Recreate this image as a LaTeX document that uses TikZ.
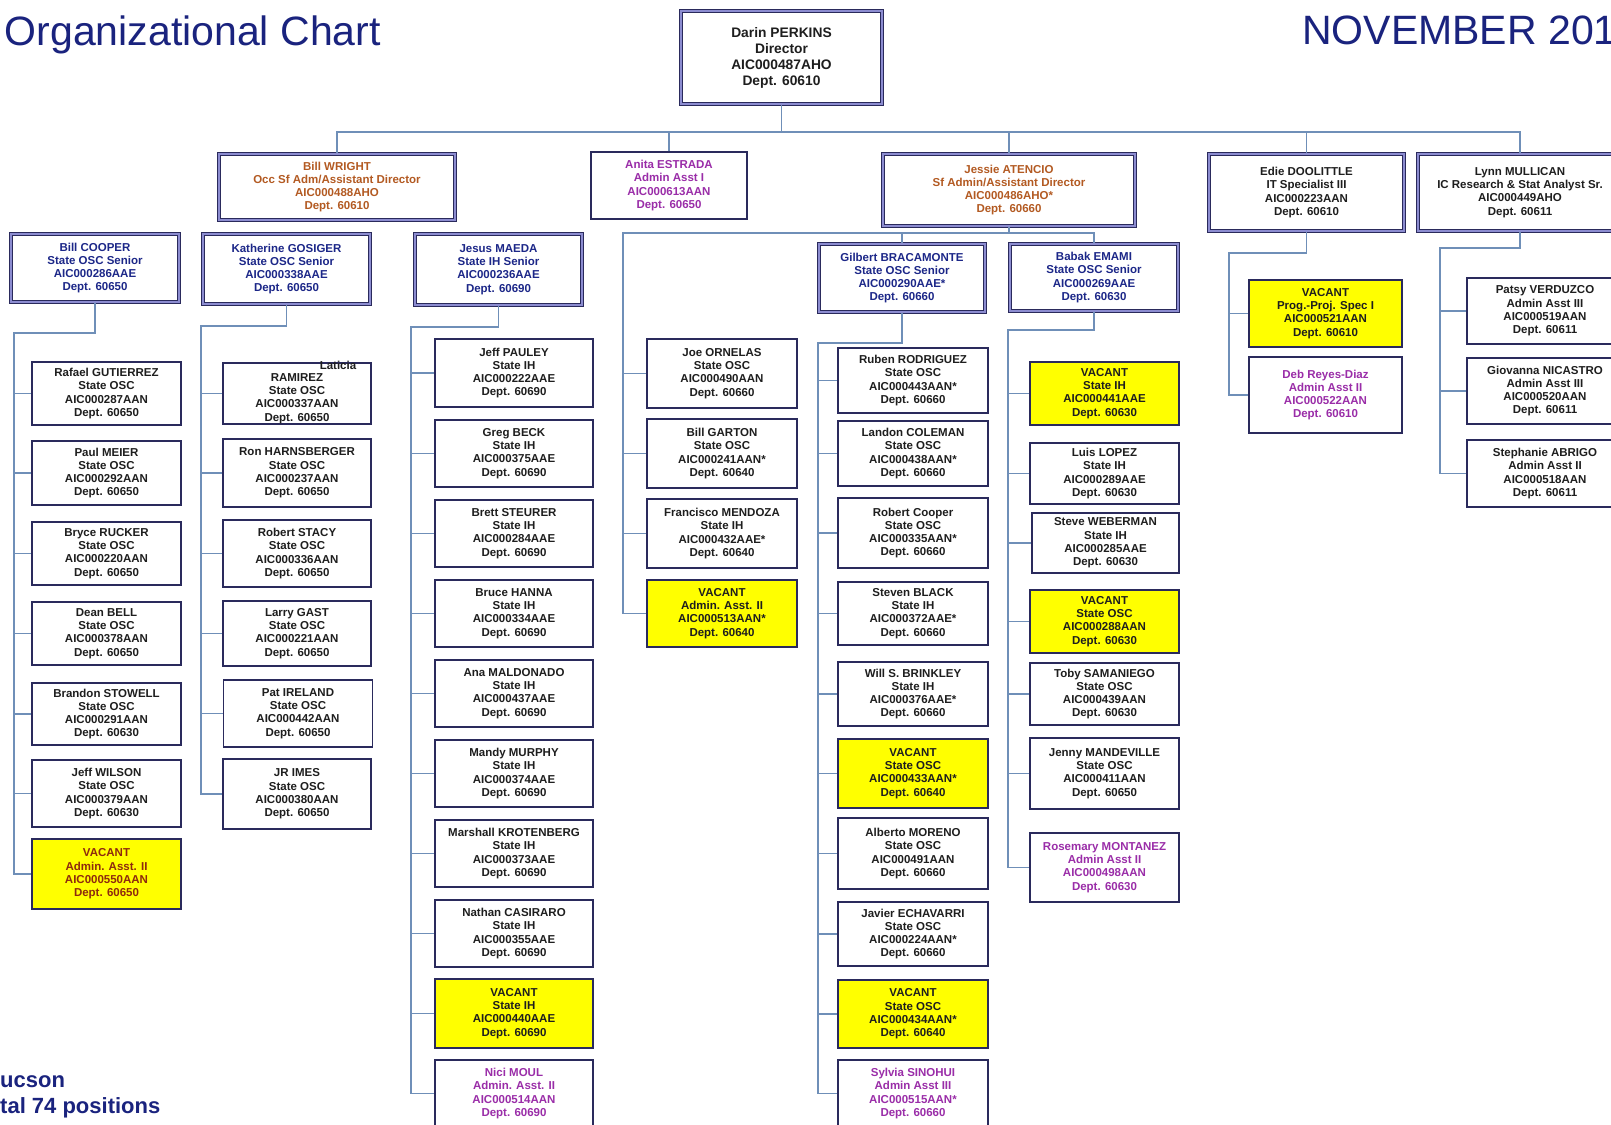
\documentclass[tikz,border=0pt]{standalone}
\usepackage{fontspec}
\setmainfont{Liberation Sans}
\definecolor{linec}{HTML}{6F8FB8}
\definecolor{boxc}{HTML}{2A2A5C}
\definecolor{dblc}{HTML}{8C8CD0}
\definecolor{vyel}{HTML}{FFFF00}
\definecolor{purp}{HTML}{9A2DA8}
\definecolor{orng}{HTML}{B35A22}
\definecolor{navyt}{HTML}{1C2788}
\definecolor{txtb}{HTML}{1E1E1E}
\definecolor{titlec}{HTML}{1A237E}
\definecolor{vacred}{HTML}{8E2A0E}
\newcommand\kidfont{\fontsize{11.5}{13.3}\selectfont\bfseries}
\newcommand\bigfont{\fontsize{13.8}{16}\selectfont\bfseries}
\newcommand\kb[6]{\node[#1,minimum width=#3pt,minimum height=#4pt] (#2) at (#5) {#6};}
\tikzset{
  conn/.style={draw=linec, line width=1.5pt},
  kid/.style={draw=boxc, line width=1.4pt, fill=white, inner sep=0pt, align=center, font=\kidfont, text=txtb},
  vac/.style={kid, fill=vyel},
  pkid/.style={kid, text=purp},
  dbl/.style={draw=boxc, line width=1.2pt, double=dblc, double distance=2pt, fill=white, inner sep=0pt, align=center, font=\kidfont, text=txtb},
  kidtxt/.style={inner sep=0pt, align=center, font=\kidfont, text=txtb},
  ttl/.style={inner sep=0pt, font=\fontsize{41}{48}\selectfont, text=titlec},
  foot/.style={inner sep=0pt, font=\fontsize{22}{26}\selectfont\bfseries, text=titlec}
}
\begin{document}
\begin{tikzpicture}[x=1pt,y=-1pt]
\useasboundingbox (0,0) rectangle (1611,1124);
\fill[white] (0,0) rectangle (1611,1124);
\clip (0,0) rectangle (1611,1124);

% titles
\node[ttl, anchor=base east] (title) at (381,46) {Organizational Chart};
\node[ttl, anchor=base west] (date) at (1302,45) {NOVEMBER 201};
\node[foot, anchor=base west] (loc) at (0,1087) {ucson};
\node[foot, anchor=base west] (tot) at (0,1113) {tal 74 positions};

% top
\node[dbl, font=\bigfont, minimum width=201pt, minimum height=93pt] (darin) at (781.5,57.5) {Darin PERKINS\\Director\\AIC000487AHO\\Dept. 60610};

% level 2
\node[dbl, text=orng, minimum width=236pt, minimum height=66pt] (wright) at (337,187) {Bill WRIGHT\\Occ Sf Adm/Assistant Director\\AIC000488AHO\\Dept. 60610};
\node[kid, text=purp, minimum width=156pt, minimum height=67pt] (estrada) at (669,185.5) {Anita ESTRADA\\Admin Asst I\\AIC000613AAN\\Dept. 60650};
\node[dbl, text=orng, minimum width=252pt, minimum height=72pt] (atencio) at (1009,190) {Jessie ATENCIO\\Sf Admin/Assistant Director\\AIC000486AHO*\\Dept. 60660};
\node[dbl, minimum width=195pt, minimum height=77pt] (doolittle) at (1306.5,192.5) {Edie DOOLITTLE\\IT Specialist III\\AIC000223AAN\\Dept. 60610};
\node[dbl, minimum width=204pt, minimum height=77pt] (mullican) at (1520,192.5) {Lynn MULLICAN\\IC Research \& Stat Analyst Sr.\\AIC000449AHO\\Dept. 60611};

% level 3
\node[dbl, text=navyt, minimum width=168pt, minimum height=68pt] (cooper) at (95,268) {Bill COOPER\\State OSC Senior\\AIC000286AAE\\Dept. 60650};
\node[dbl, text=navyt, minimum width=167pt, minimum height=70pt] (gosiger) at (286.5,269) {Katherine GOSIGER\\State OSC Senior\\AIC000338AAE\\Dept. 60650};
\node[dbl, text=navyt, minimum width=167pt, minimum height=71pt] (maeda) at (498.5,269.5) {Jesus MAEDA\\State IH Senior\\AIC000236AAE\\Dept. 60690};
\node[dbl, text=navyt, minimum width=166pt, minimum height=68pt] (bracamonte) at (902,278) {Gilbert BRACAMONTE\\State OSC Senior\\AIC000290AAE*\\Dept. 60660};
\node[dbl, text=navyt, minimum width=168pt, minimum height=67pt] (emami) at (1094,277.5) {Babak EMAMI\\State OSC Senior\\AIC000269AAE\\Dept. 60630};

% Cooper team
\kb{kid}{gutierrez}{149}{63}{106.5,393.5}{Rafael GUTIERREZ\\State OSC\\AIC000287AAN\\Dept. 60650}
\kb{kid}{meier}{149}{64}{106.5,473}{Paul MEIER\\State OSC\\AIC000292AAN\\Dept. 60650}
\kb{kid}{rucker}{149}{63}{106.5,553.5}{Bryce RUCKER\\State OSC\\AIC000220AAN\\Dept. 60650}
\kb{kid}{bell}{149}{63}{106.5,633.5}{Dean BELL\\State OSC\\AIC000378AAN\\Dept. 60650}
\kb{kid}{stowell}{149}{62}{106.5,714}{Brandon STOWELL\\State OSC\\AIC000291AAN\\Dept. 60630}
\kb{kid}{wilson}{149}{67}{106.5,793.5}{Jeff WILSON\\State OSC\\AIC000379AAN\\Dept. 60630}
\kb{vac,text=vacred}{cvac}{149}{70}{106.5,874}{VACANT\\Admin. Asst. II\\AIC000550AAN\\Dept. 60650}

% Gosiger team
\kb{kid}{ramirez}{148}{61}{297,393.5}{}
\node[kidtxt] (ramirezT) at (297,398.5) {RAMIREZ\\State OSC\\AIC000337AAN\\Dept. 60650};
\node[kidtxt] (laticia) at (338,365) {Laticia};
\kb{kid}{harnsberger}{148}{68}{297,473}{Ron HARNSBERGER\\State OSC\\AIC000237AAN\\Dept. 60650}
\kb{kid}{stacy}{148}{67}{297,553.5}{Robert STACY\\State OSC\\AIC000336AAN\\Dept. 60650}
\kb{kid}{gast}{148}{65}{297,633.5}{Larry GAST\\State OSC\\AIC000221AAN\\Dept. 60650}
\kb{kid}{ireland}{149}{67}{298,713.5}{Pat IRELAND\\State OSC\\AIC000442AAN\\Dept. 60650}
\kb{kid}{imes}{148}{70}{297,794}{JR IMES\\State OSC\\AIC000380AAN\\Dept. 60650}

% Maeda team
\kb{kid}{pauley}{158}{68}{514,373}{Jeff PAULEY\\State IH\\AIC000222AAE\\Dept. 60690}
\kb{kid}{beck}{158}{67}{514,453.5}{Greg BECK\\State IH\\AIC000375AAE\\Dept. 60690}
\kb{kid}{steurer}{158}{67}{514,533.5}{Brett STEURER\\State IH\\AIC000284AAE\\Dept. 60690}
\kb{kid}{hanna}{158}{67}{514,613.5}{Bruce HANNA\\State IH\\AIC000334AAE\\Dept. 60690}
\kb{kid}{maldonado}{158}{67}{514,693.5}{Ana MALDONADO\\State IH\\AIC000437AAE\\Dept. 60690}
\kb{kid}{murphy}{158}{67}{514,773.5}{Mandy MURPHY\\State IH\\AIC000374AAE\\Dept. 60690}
\kb{kid}{krotenberg}{158}{67}{514,853.5}{Marshall KROTENBERG\\State IH\\AIC000373AAE\\Dept. 60690}
\kb{kid}{casiraro}{158}{67}{514,933.5}{Nathan CASIRARO\\State IH\\AIC000355AAE\\Dept. 60690}
\kb{vac}{mvac}{158}{69}{514,1013.5}{VACANT\\State IH\\AIC000440AAE\\Dept. 60690}
\kb{pkid}{moul}{158}{67}{514,1093.5}{Nici MOUL\\Admin. Asst. II\\AIC000514AAN\\Dept. 60690}

% Ornelas column
\kb{kid}{ornelas}{150}{69}{722,373.5}{Joe ORNELAS\\State OSC\\AIC000490AAN\\Dept. 60660}
\kb{kid}{garton}{150}{69}{722,453.5}{Bill GARTON\\State OSC\\AIC000241AAN*\\Dept. 60640}
\kb{kid}{mendoza}{150}{69}{722,533.5}{Francisco MENDOZA\\State IH\\AIC000432AAE*\\Dept. 60640}
\kb{vac}{jvac}{150}{67}{722,613.5}{VACANT\\Admin. Asst. II\\AIC000513AAN*\\Dept. 60640}

% Bracamonte team
\kb{kid}{rodriguez}{150}{65}{913,380.5}{Ruben RODRIGUEZ\\State OSC\\AIC000443AAN*\\Dept. 60660}
\kb{kid}{coleman}{150}{65}{913,453.5}{Landon COLEMAN\\State OSC\\AIC000438AAN*\\Dept. 60660}
\kb{kid}{rcooper}{150}{70}{913,533}{Robert Cooper\\State OSC\\AIC000335AAN*\\Dept. 60660}
\kb{kid}{black}{150}{63}{913,613.5}{Steven BLACK\\State IH\\AIC000372AAE*\\Dept. 60660}
\kb{kid}{brinkley}{150}{64}{913,694}{Will S. BRINKLEY\\State IH\\AIC000376AAE*\\Dept. 60660}
\kb{vac}{bvaca}{150}{69}{913,773.5}{VACANT\\State OSC\\AIC000433AAN*\\Dept. 60640}
\kb{kid}{moreno}{150}{71}{913,853.5}{Alberto MORENO\\State OSC\\AIC000491AAN\\Dept. 60660}
\kb{kid}{echavarri}{150}{64}{913,934}{Javier ECHAVARRI\\State OSC\\AIC000224AAN*\\Dept. 60660}
\kb{vac}{bvacb}{150}{68}{913,1014}{VACANT\\State OSC\\AIC000434AAN*\\Dept. 60640}
\kb{pkid}{sinohui}{150}{67}{913,1093.5}{Sylvia SINOHUI\\Admin Asst III\\AIC000515AAN*\\Dept. 60660}

% Emami team
\kb{vac}{evaca}{149}{63}{1104.5,393.5}{VACANT\\State IH\\AIC000441AAE\\Dept. 60630}
\kb{kid}{lopez}{149}{61}{1104.5,473.5}{Luis LOPEZ\\State IH\\AIC000289AAE\\Dept. 60630}
\kb{kid}{weberman}{147}{60}{1105.5,543}{Steve WEBERMAN\\State IH\\AIC000285AAE\\Dept. 60630}
\kb{vac}{evacb}{149}{63}{1104.5,621.5}{VACANT\\State OSC\\AIC000288AAN\\Dept. 60630}
\kb{kid}{samaniego}{149}{62}{1104.5,694}{Toby SAMANIEGO\\State OSC\\AIC000439AAN\\Dept. 60630}
\kb{kid}{mandeville}{149}{71}{1104.5,773.5}{Jenny MANDEVILLE\\State OSC\\AIC000411AAN\\Dept. 60650}
\kb{pkid}{montanez}{149}{69}{1104.5,867.5}{Rosemary MONTANEZ\\Admin Asst II\\AIC000498AAN\\Dept. 60630}

% Doolittle team
\kb{vac}{dvac}{153}{67}{1325.5,313.5}{VACANT\\Prog.-Proj. Spec I\\AIC000521AAN\\Dept. 60610}
\kb{pkid}{reyes}{153}{76}{1325.5,395}{Deb Reyes-Diaz\\Admin Asst II\\AIC000522AAN\\Dept. 60610}

% Mullican team
\kb{kid}{verduzco}{156}{66}{1545,311}{Patsy VERDUZCO\\Admin Asst III\\AIC000519AAN\\Dept. 60611}
\kb{kid}{nicastro}{156}{66}{1545,391}{Giovanna NICASTRO\\Admin Asst III\\AIC000520AAN\\Dept. 60611}
\kb{kid}{abrigo}{156}{67}{1545,473.5}{Stephanie ABRIGO\\Admin Asst II\\AIC000518AAN\\Dept. 60611}

% ---------- connectors ----------
\coordinate (bus) at (783,132);
\draw[conn] (darin.south) -- (darin.south |- bus);
\draw[conn] (wright.north) |- (bus) -| (mullican.north);
\foreach \n in {estrada,atencio,doolittle} \draw[conn] (\n.north) -- (\n.north |- bus);

\coordinate (abus) at (1009,233);
\coordinate (jT) at (623,233);
\draw[conn] (atencio.south) -- (atencio.south |- abus);
\draw[conn] (emami.north) |- (jT) -- (jT |- jvac.west) -- (jvac.west);
\draw[conn] (bracamonte.north) -- (bracamonte.north |- abus);
\foreach \n in {ornelas,garton,mendoza} \draw[conn] (jT |- \n.west) -- (\n.west);

\coordinate (cT) at (14,333);
\draw[conn] (cooper.south) |- (cT) -- (cT |- cvac.west) -- (cvac.west);
\foreach \n in {gutierrez,meier,rucker,bell,stowell,wilson} \draw[conn] (cT |- \n.west) -- (\n.west);

\coordinate (gT) at (201,326);
\draw[conn] (gosiger.south) |- (gT) -- (gT |- imes.west) -- (imes.west);
\foreach \n in {ramirez,harnsberger,stacy,gast,ireland} \draw[conn] (gT |- \n.west) -- (\n.west);

\coordinate (mT) at (411,327);
\draw[conn] (maeda.south) |- (mT) -- (mT |- moul.west) -- (moul.west);
\foreach \n in {pauley,beck,steurer,hanna,maldonado,murphy,krotenberg,casiraro,mvac} \draw[conn] (mT |- \n.west) -- (\n.west);

\coordinate (bT) at (818,343);
\draw[conn] (bracamonte.south) |- (bT) -- (bT |- sinohui.west) -- (sinohui.west);
\foreach \n in {rodriguez,coleman,rcooper,black,brinkley,bvaca,moreno,echavarri,bvacb} \draw[conn] (bT |- \n.west) -- (\n.west);

\coordinate (eT) at (1008,330);
\draw[conn] (emami.south) |- (eT) -- (eT |- montanez.west) -- (montanez.west);
\foreach \n in {evaca,lopez,weberman,evacb,samaniego,mandeville} \draw[conn] (eT |- \n.west) -- (\n.west);

\coordinate (dT) at (1229,253);
\draw[conn] (doolittle.south) |- (dT) -- (dT |- reyes.west) -- (reyes.west);
\draw[conn] (dT |- dvac.west) -- (dvac.west);

\coordinate (lT) at (1440,248);
\draw[conn] (mullican.south) |- (lT) -- (lT |- abrigo.west) -- (abrigo.west);
\foreach \n in {verduzco,nicastro} \draw[conn] (lT |- \n.west) -- (\n.west);
\end{tikzpicture}
\end{document}
